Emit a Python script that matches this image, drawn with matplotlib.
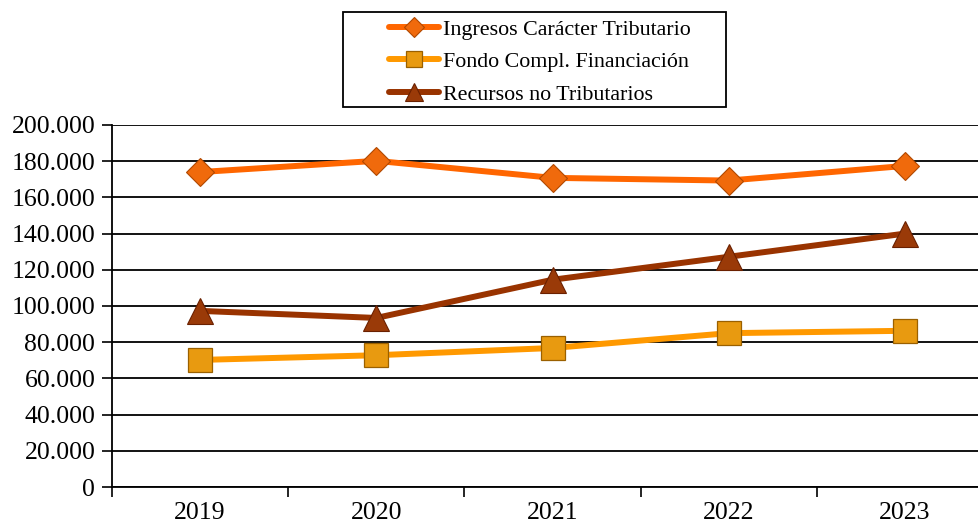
import matplotlib

matplotlib.use("Agg")
import matplotlib.pyplot as plt
from matplotlib.patches import Rectangle
from matplotlib.ticker import FuncFormatter, FixedLocator, NullFormatter

plt.rcParams.update({
    "font.family": ["Liberation Serif", "DejaVu Serif"],
    "font.size": 18.5,
})

anios = ["2019", "2020", "2021", "2022", "2023"]
ingresos_tributarios = [174000, 180200, 170800, 169300, 177400]
fondo_complementario = [70200, 72800, 76800, 85000, 86300]
recursos_no_tributarios = [97300, 93400, 114500, 127200, 140000]

NARANJA = "#FF6600"
AMARILLO = "#FF9900"
MARRON = "#993300"

W, H = 979, 526
fig = plt.figure(figsize=(W / 100, H / 100), dpi=100)
ax = fig.add_axes([112 / W, 39 / H, 881 / W, 362 / H])

x = range(len(anios))
ax.plot(x, ingresos_tributarios, color=NARANJA, lw=4.3, marker="D", ms=14,
        mfc="#F06A0C", mec="#B04800", mew=0.8, label="Ingresos Carácter Tributario",
        solid_capstyle="round", zorder=4)
ax.plot(x, fondo_complementario, color=AMARILLO, lw=4.3, marker="s", ms=17,
        mfc="#E89A10", mec="#9A6000", mew=0.9, label="Fondo Compl. Financiación",
        solid_capstyle="round", zorder=3)
ax.plot(x, recursos_no_tributarios, color=MARRON, lw=4.3, marker="^", ms=19,
        mfc="#9A3A08", mec="#6A2000", mew=0.8, label="Recursos no Tributarios",
        solid_capstyle="round", zorder=3)

ax.set_xlim(-0.5, len(anios) - 0.5)
ax.set_ylim(0, 200000)
ax.set_yticks(range(0, 200001, 20000))
ax.yaxis.set_major_formatter(FuncFormatter(lambda v, _: f"{int(v):,}".replace(",", ".")))
ax.yaxis.grid(True, color="black", lw=1.3)
ax.set_axisbelow(True)

# etiquetas centradas en cada año, marcas entre categorías
ax.xaxis.set_major_locator(FixedLocator([i - 0.5 for i in range(len(anios) + 1)]))
ax.xaxis.set_major_formatter(NullFormatter())
ax.xaxis.set_minor_locator(FixedLocator(list(x)))
ax.set_xticklabels(anios, minor=True)
ax.tick_params(axis="x", which="minor", length=0, pad=11)
ax.tick_params(axis="x", which="major", length=7, width=1.2, direction="out")
ax.tick_params(axis="y", length=7, width=1.2, direction="out", pad=5)

for lado in ("top", "right"):
    ax.spines[lado].set_visible(False)
for lado in ("left", "bottom"):
    ax.spines[lado].set_color("black")
    ax.spines[lado].set_linewidth(1.3)

# marco de la leyenda dibujado aparte para reproducir el relleno lateral
fig.patches.append(Rectangle((343 / W, 1 - 107 / H), 383 / W, 95 / H,
                             transform=fig.transFigure, fill=False,
                             edgecolor="black", lw=1.3))
fig.legend(loc="center left", bbox_to_anchor=(378 / W, 1 - 62 / H), frameon=False,
           handlelength=2.3, handletextpad=0.15, labelspacing=0.55, borderpad=0,
           fontsize=15.8, markerscale=0.7)

fig.savefig("out.png", dpi=100)
